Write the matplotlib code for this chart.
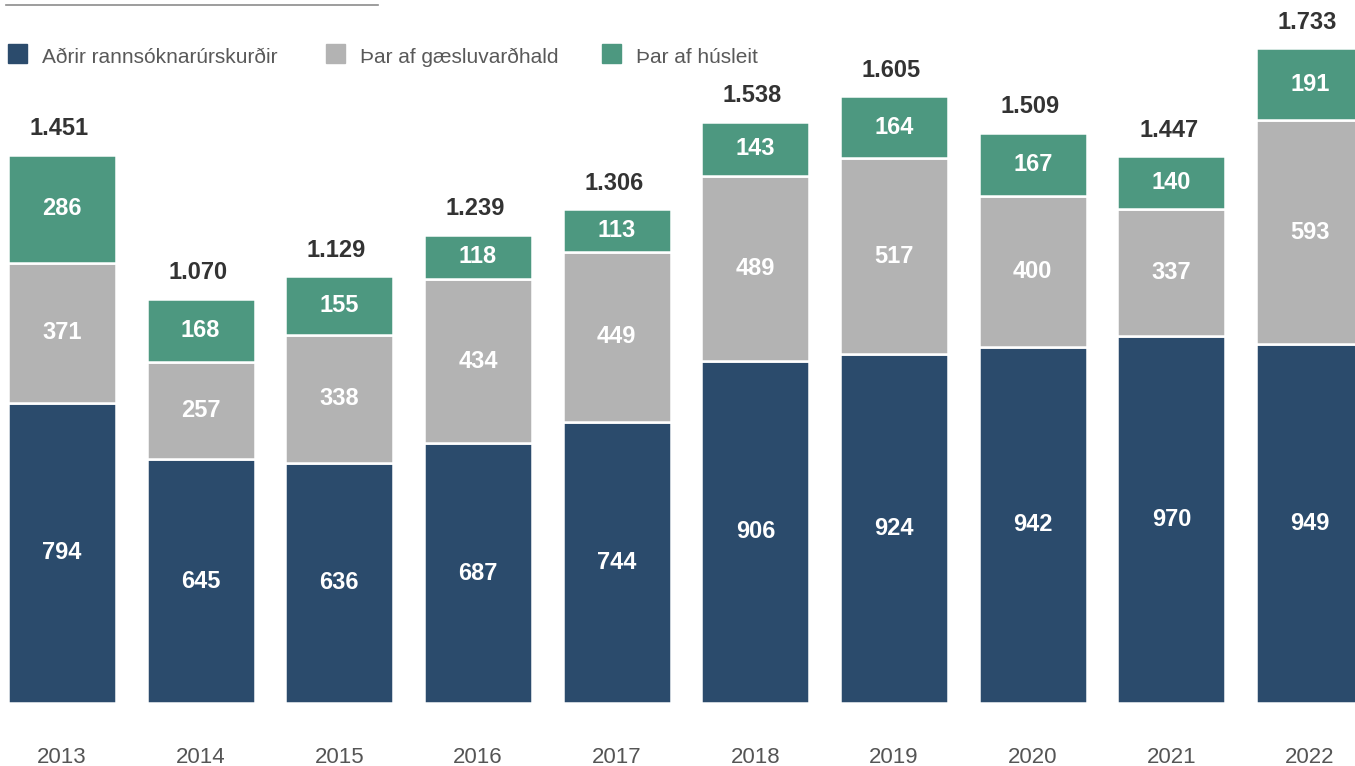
import matplotlib.pyplot as plt
from matplotlib.patches import Rectangle
from matplotlib.lines import Line2D
import numpy as np

plt.rcParams['font.family'] = ['Liberation Sans', 'DejaVu Sans']

years = ['2013', '2014', '2015', '2016', '2017', '2018', '2019', '2020', '2021', '2022']
adrir = [794, 645, 636, 687, 744, 906, 924, 942, 970, 949]
gaesla = [371, 257, 338, 434, 449, 489, 517, 400, 337, 593]
husleit = [286, 168, 155, 118, 113, 143, 164, 167, 140, 191]

series = [adrir, gaesla, husleit]
names = ['Aðrir rannsóknarúrskurðir', 'Þar af gæsluvarðhald', 'Þar af húsleit']
colors = ['#2b4b6c', '#b3b3b3', '#4d9880']

W, H = 1355, 766
fig = plt.figure(figsize=(W / 100, H / 100), dpi=100)
ax = fig.add_axes([0, (H - 703) / H, 1, 703 / H])

step = 138.67
x = np.arange(len(years))
ax.set_xlim(-62 / step, (W - 62) / step)
ax.set_ylim(0, 703 / 0.378)

bottom = np.zeros(len(years))
for vals, c in zip(series, colors):
    vals = np.array(vals)
    ax.bar(x, vals, width=108 / step, bottom=bottom, color=c,
           edgecolor='white', linewidth=1.8)
    for xi, b, v in zip(x, bottom, vals):
        ax.text(xi, b + v / 2, str(v), ha='center', va='center',
                color='white', fontsize=17, fontweight='bold')
    bottom += vals

for xi, t in zip(x, bottom):
    ax.annotate(f"{int(t):,}".replace(",", "."), (xi, t), xytext=(-2, 18.5),
                textcoords='offset points', ha='center', va='center',
                fontsize=17, fontweight='bold', color='#333333')

ax.set_xticks(x)
ax.set_xticklabels(years, fontsize=16, color='#555555')
ax.tick_params(axis='x', length=0, pad=32)
ax.set_yticks([])
for s in ax.spines.values():
    s.set_visible(False)
ax.patch.set_alpha(0)

# top rule
fig.add_artist(Line2D([6 / W, 378 / W], [1 - 4.5 / H, 1 - 4.5 / H],
                      color='#8c8c8c', linewidth=1.2))

# legend
leg_x = [8, 326, 602]
for lx, name, c in zip(leg_x, names, colors):
    fig.add_artist(Rectangle((lx / W, 1 - 63 / H), 19 / W, 19 / H,
                             color=c, transform=fig.transFigure))
    fig.text((lx + 34) / W, 1 - 63 / H, name, ha='left', va='baseline',
             fontsize=15, color='#595959')

fig.savefig('out.png', dpi=100)
